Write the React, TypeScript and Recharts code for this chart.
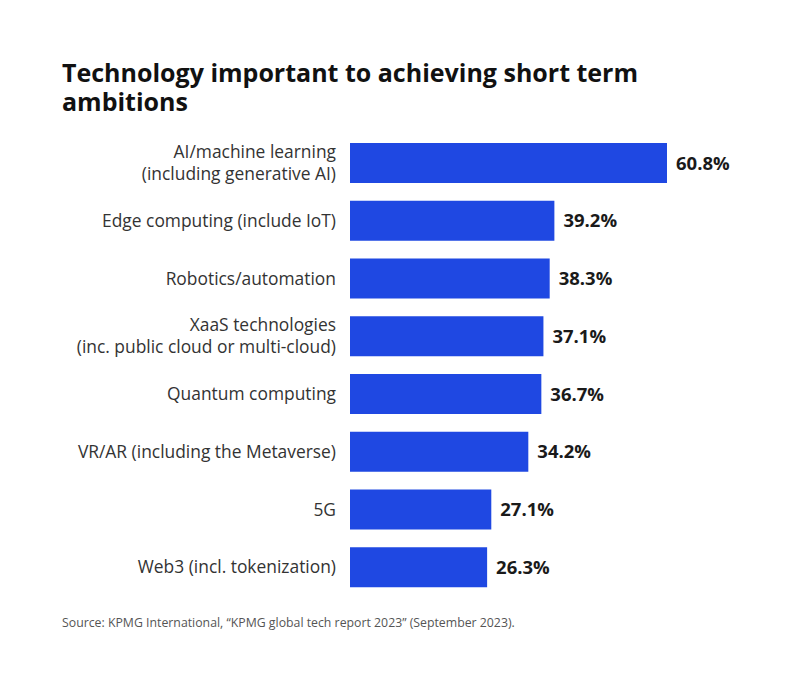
import { BarChart, Bar, XAxis, YAxis, LabelList } from 'recharts'

const categories = [
  ['AI/machine learning', '(including generative AI)'],
  ['Edge computing (include IoT)'],
  ['Robotics/automation'],
  ['XaaS technologies', '(inc. public cloud or multi-cloud)'],
  ['Quantum computing'],
  ['VR/AR (including the Metaverse)'],
  ['5G'],
  ['Web3 (incl. tokenization)'],
]
const values = [60.8, 39.2, 38.3, 37.1, 36.7, 34.2, 27.1, 26.3]

const FONT = '"Open Sans", sans-serif'

const data = categories.map((lines, i) => ({ name: lines.join('\n'), value: values[i] }))

function CategoryTick({ x, y, payload }: any) {
  const lines = String(payload.value).split('\n')
  const lh = 22
  const start = y - ((lines.length - 1) * lh) / 2
  return (
    <text x={x} y={start} textAnchor="end" fill="#333" fontSize={17.4} fontFamily={FONT}>
      {lines.map((l, i) => (
        <tspan key={i} x={x} y={start + i * lh} dy="0.355em">
          {l}
        </tspan>
      ))}
    </text>
  )
}

export default function App() {
  return (
    <div style={{ position: 'absolute', left: 0, top: 0, width: 800, height: 675, background: '#fff', fontFamily: FONT }}>
      {/* title, two lines */}
      <div
        style={{
          position: 'absolute',
          left: 62,
          top: 58,
          width: 680,
          fontSize: 25,
          lineHeight: '29px',
          fontWeight: 700,
          color: '#111',
        }}
      >
        <div>Technology important to achieving short term</div>
        <div>ambitions</div>
      </div>
      <BarChart
        width={800}
        height={675}
        layout="vertical"
        data={data}
        margin={{ top: 134, right: 133, bottom: 79, left: 0 }}
        barCategoryGap={0}
      >
        <XAxis type="number" hide domain={[0, 60.8]} />
        <YAxis
          type="category"
          dataKey="name"
          width={350}
          axisLine={false}
          tickLine={false}
          tickMargin={8}
          interval={0}
          tick={<CategoryTick />}
        />
        <Bar dataKey="value" fill="#1f48e2" barSize={40} isAnimationActive={false}>
          <LabelList
            dataKey="value"
            position="right"
            offset={9}
            formatter={(v: any) => `${v}%`}
            style={{ fontFamily: FONT, fontSize: 18.5, fontWeight: 700, fill: '#1a1a1a' }}
          />
        </Bar>
      </BarChart>
      <div
        style={{
          position: 'absolute',
          left: 62,
          top: 614,
          fontSize: 12.3,
          color: '#555',
        }}
      >
        Source: KPMG International, “KPMG global tech report 2023” (September 2023).
      </div>
    </div>
  )
}
